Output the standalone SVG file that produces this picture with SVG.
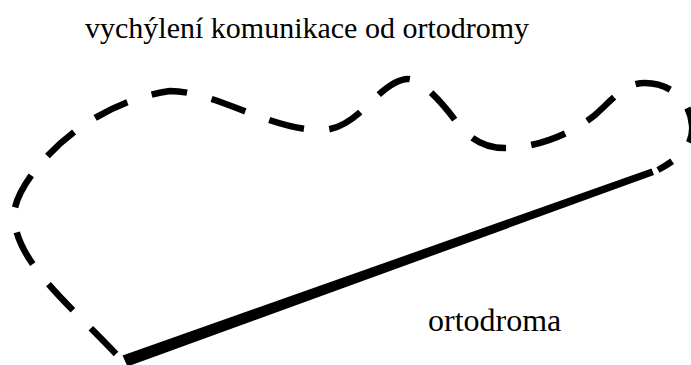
<svg xmlns="http://www.w3.org/2000/svg" width="691" height="365" viewBox="0 0 691 365">
  <style>
    text { font-family: 'Liberation Serif', Tinos, 'Times New Roman', 'DejaVu Serif', serif; fill: #000; }
    .route { fill: none; stroke: #000; stroke-width: 6.5; stroke-dasharray: 33.9 24; }
    .ortho { fill: #000; stroke: none; }
  </style>
  <rect width="691" height="365" fill="#fff"/>
  <g id="connectors">
    <path id="route" class="route" pathLength="1000"
      d="M116,354 C70,305 15,262 14,215 C14,185 75,105 170,91 C215,91 270,130 320,130 C360,131 378,80 408,79 C420,79 440,100 455,120 C470,140 485,148 505,148 C535,148 570,135 595,115 C615,97 625,83 645,83 C670,83 690,100 692,125 C694,145 680,158 658,170"/>
    <polygon id="ortodroma-line" class="ortho" points="127.5,366.5 122.5,355.5 651.5,168.5 654,175"/>
  </g>
  <g id="title">
    <text font-family="Liberation Serif, serif" x="85" y="38" font-size="30">vychýlení komunikace od ortodromy</text>
  </g>
  <g id="label-ortodroma">
    <text font-family="Liberation Serif, serif" x="428" y="331" font-size="32">ortodroma</text>
  </g>
</svg>
